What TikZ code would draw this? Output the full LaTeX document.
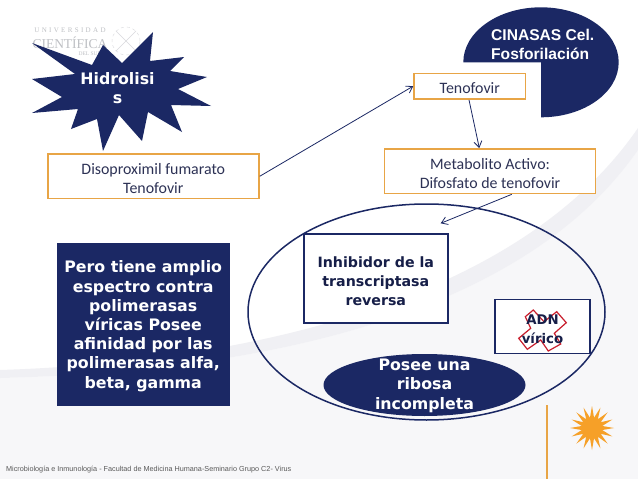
\documentclass[tikz,border=0pt]{standalone}
\usepackage{fontspec}
\usepackage{xcolor}
\usetikzlibrary{arrows.meta,positioning,calc,shapes.geometric}
\setmainfont{Carlito}
\newfontfamily\verdanafont{DejaVu Sans}
\newfontfamily\arialfont{Liberation Sans}
\newfontfamily\logofont{Liberation Serif}
\definecolor{slidenavy}{RGB}{27,40,100}
\definecolor{boxorange}{RGB}{232,165,70}
\definecolor{boxtext}{RGB}{45,50,85}
\definecolor{darktext}{RGB}{22,30,72}
\definecolor{sunorange}{RGB}{246,160,40}
\definecolor{floorgray}{RGB}{247,247,249}
\definecolor{bandgray}{RGB}{240,240,244}
\definecolor{crossred}{RGB}{200,30,45}
\definecolor{logogray}{RGB}{190,192,196}
\newcommand{\firstline}{\rule{0pt}{15.5pt}}

\begin{document}
\begin{tikzpicture}[x=1pt,y=-1pt,
    orangebox/.style={draw=boxorange, line width=1.8pt, fill=white, inner sep=0pt, align=center, text=boxtext, font=\fontsize{15.9}{19.2}\selectfont},
    navybox/.style={draw=slidenavy, line width=1.6pt, fill=white, inner sep=0pt, align=center, text=darktext, font=\verdanafont\bfseries\fontsize{14.2}{19.2}\selectfont},
    boldwhite/.style={inner sep=0pt, align=center, text=white, font=\verdanafont\bfseries\fontsize{15.8}{19.2}\selectfont},
    arrow/.style={-{Straight Barb[length=6pt,width=8pt]}, draw=slidenavy, line width=0.8pt}
]
\useasboundingbox (0,0) rectangle (638,479);

% background
\fill[white] (0,0) rectangle (638,479);
\fill[floorgray] (0,378) .. controls (250,372) and (520,320) .. (638,150) -- (638,479) -- (0,479) -- cycle;
\fill[bandgray] (0,370) .. controls (250,362) and (520,300) .. (638,128) -- (638,150) .. controls (520,320) and (250,372) .. (0,378) -- cycle;

% logo
\node[inner sep=0pt, font=\logofont\fontsize{7}{7}\selectfont, text=logogray] (logotop) at (70,30) {U\,\,N\,\,I\,\,V\,\,E\,\,R\,\,S\,\,I\,\,D\,\,A\,\,D};
\node[inner sep=0pt, font=\logofont\fontsize{13.5}{13.5}\selectfont, text=logogray] (logomid) at (70,42.5) {CIENTÍFICA};
\node[inner sep=0pt, font=\logofont\fontsize{5.5}{5.5}\selectfont, text=logogray] (logolow) at (90,53.5) {DEL SUR};
\node[circle, draw=logogray!60, dashed, minimum size=28pt, inner sep=0pt] (logoseal) at (126,41) {};
\draw[logogray!60] (logoseal.north east) -- (logoseal.south west);
\draw[logogray!60] (logoseal.north west) -- (logoseal.south east);

% star
\fill[slidenavy] (32,43) -- (92,65) -- (103,45) -- (122,63) -- (153,32) -- (150,61) -- (184,57) -- (170,71)
  -- (207,77) -- (178,89) -- (211,106) -- (171,105) -- (182,132) -- (148,112) -- (142,141) -- (119,115)
  -- (103,151) -- (97,119) -- (71,129) -- (78,109) -- (32,113) -- (62,97) -- (32,79) -- (75,74) -- cycle;
\node[boldwhite] (hidro) at (117.5,88) {Hidrolisi\\s};

% kinases
\fill[slidenavy] (541,62.3) -- (463.3,62.3) arc[start angle=180, end angle=-90, x radius=77.7pt, y radius=55pt] -- cycle;
\node[anchor=west, inner sep=0pt, align=left, text=white, font=\arialfont\bfseries\fontsize{15.6}{19.2}\selectfont] (cinasas) at (491,44.5) {CINASAS Cel.\\Fosforilación};

% orange boxes
\node[orangebox, minimum width=211pt, minimum height=44.5pt] (disop) at (153.3,176.3) {\firstline Disoproximil fumarato\\Tenofovir};
\node[orangebox, minimum width=111.5pt, minimum height=25.5pt] (tenof) at (469.8,86.2) {\firstline Tenofovir};
\node[orangebox, minimum width=211pt, minimum height=44.5pt] (metab) at (490,171.2) {\firstline Metabolito Activo:\\Difosfato de tenofovir};

% left box
\node[draw=slidenavy, fill=slidenavy, minimum width=172pt, minimum height=162pt, boldwhite] (pero) at (143.2,324.5) {\firstline Pero tiene amplio\\espectro contra\\polimerasas\\víricas Posee\\afinidad por las\\polimerasas alfa,\\beta, gamma};

% big ellipse
\node[ellipse, draw=slidenavy, line width=1.5pt, minimum width=357pt, minimum height=216pt, inner sep=0pt] (cell) at (426.5,312) {};
\node[navybox, minimum width=144pt, minimum height=89pt] (inhib) at (375.8,278.7) {\firstline Inhibidor de la\\transcriptasa\\reversa};
\node[ellipse, fill=slidenavy, minimum width=202pt, minimum height=62pt, inner sep=0pt] (ribo) at (424.5,385) {};
\node[boldwhite] (ribotext) at (424.5,385.7) {Posee una\\ribosa\\incompleta};

% ADN box and cross
\node[draw=slidenavy, line width=1.6pt, fill=white, minimum width=95.5pt, minimum height=54pt, inner sep=0pt] (adnbox) at (542.5,326.3) {};
\draw[crossred, line width=1.2pt] (533.3,310) -- (544,321.7) -- (556.7,311.7) -- (566.3,322.7) -- (554.3,333.3)
  -- (560.7,344) -- (548.3,351) -- (540.7,340) -- (527.3,349.3) -- (518.7,338.3) -- (530.7,328.3) -- (525.3,316.7) -- cycle;
\node[inner sep=0pt, align=center, text=darktext, font=\verdanafont\bfseries\fontsize{13.3}{19.2}\selectfont] (adn) at (542.5,329) {ADN\\vírico};

% arrows
\coordinate (into) at (440.7,223.3);
\draw[arrow] (disop.east) -- (tenof.west);
\draw[arrow] ([xshift=-0.8pt]tenof.south) -- ([xshift=-10.7pt]metab.north);
\draw[arrow] ([xshift=21.7pt]metab.south) -- (into);

% corner decoration
\coordinate (ruletop) at (547,405);
\coordinate (rulelow) at (547,479);
\draw[boxorange, line width=1.2pt] (ruletop) -- (rulelow);
\node[star, star points=16, star point ratio=2.1, fill=sunorange, minimum size=44pt, inner sep=0pt] (sun) at (592,428) {};

% footer
\node[anchor=west, inner sep=0pt, text=black!65, font=\arialfont\fontsize{7.25}{9}\selectfont] (footer) at (6,470) {Microbiología e Inmunología - Facultad de Medicina Humana-Seminario Grupo C2- Virus};
\end{tikzpicture}
\end{document}
